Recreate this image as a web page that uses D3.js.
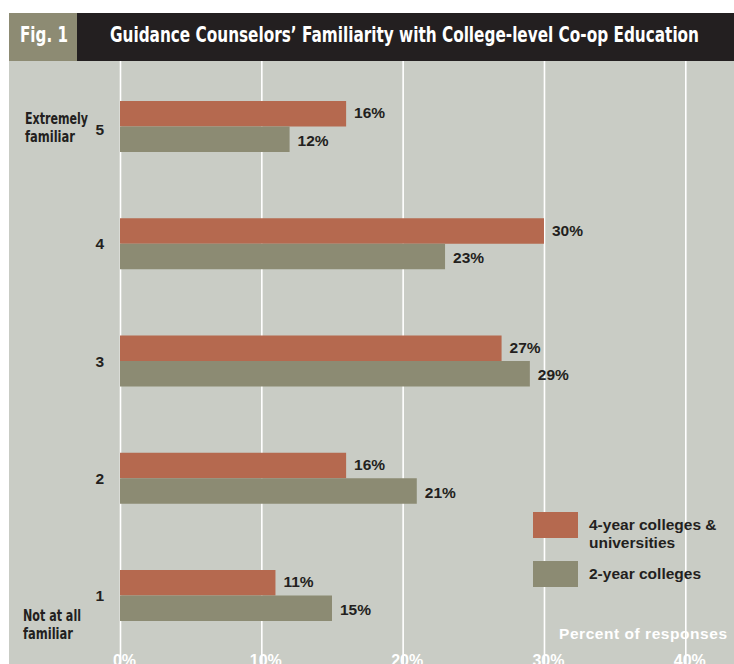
<!DOCTYPE html>
<html lang="en">
<head>
  <meta charset="utf-8">
  <title>Fig. 1 Guidance Counselors' Familiarity</title>
  <script src="https://d3js.org/d3.v7.min.js"></script>
  <style>
    body {
      margin: 0;
      background: #fff;
    }
    svg {
      display: block;
    }
    .narrow {
      font-family: "Liberation Sans Narrow", "DejaVu Sans Condensed", "Arial Narrow", sans-serif;
      font-weight: bold;
    }
    .plain {
      font-family: "Liberation Sans", Arial, Helvetica, sans-serif;
      font-weight: bold;
    }
  </style>
</head>
<body>
  <svg width="734" height="664"></svg>

  <script>
  // data
  const levels = ["5", "4", "3", "2", "1"];
  const fourYear = [16, 30, 27, 16, 11];
  const twoYear = [12, 23, 29, 21, 15];
  const seriesNames = ["4-year colleges & universities", "2-year colleges"];
  const tickValues = [0, 10, 20, 30, 40];
  const levelNotes = { "5": ["Extremely", "familiar"], "1": ["Not at all", "familiar"] };

  const colors = ["#b5694f", "#8c8b73"];
  const ink = "#231f20";

  const svg = d3.select("svg");
  const W = 734, H = 664;
  const plotTop = 61, plotLeft = 9;

  // header
  svg.append("rect").attr("x", plotLeft).attr("y", 13).attr("width", 68).attr("height", 48).attr("fill", "#8d8b73");
  svg.append("rect").attr("x", 77).attr("y", 13).attr("width", W - 77).attr("height", 48).attr("fill", ink);
  svg.append("text").attr("class", "narrow")
    .attr("x", 20).attr("y", 42)
    .attr("font-size", 22).attr("fill", "#fff")
    .attr("textLength", 48).attr("lengthAdjust", "spacingAndGlyphs")
    .text("Fig. 1");
  svg.append("text").attr("class", "narrow")
    .attr("x", 110).attr("y", 42)
    .attr("font-size", 22).attr("fill", "#fff")
    .attr("textLength", 589).attr("lengthAdjust", "spacingAndGlyphs")
    .text("Guidance Counselors’ Familiarity with College-level Co-op Education");

  // plot background
  svg.append("rect").attr("x", plotLeft).attr("y", plotTop).attr("width", W - plotLeft).attr("height", H - plotTop).attr("fill", "#c9ccc5");

  const x = d3.scaleLinear().domain([0, 40]).range([120, 685.3]);
  const y = d3.scalePoint().domain(levels).range([126.5, 595.5]);
  const barH = 25.5;

  // gridlines + tick labels (cut by the bottom edge, as in the print)
  const axis = svg.append("g")
    .attr("transform", `translate(0,${H})`)
    .call(d3.axisBottom(x).tickValues(tickValues).tickSize(-(H - plotTop)).tickPadding(-9).tickFormat(d => d + "%"));
  axis.select(".domain").remove();
  axis.selectAll(".tick line").attr("stroke", "#fff").attr("stroke-width", 1.6);
  axis.selectAll(".tick text")
    .attr("class", "plain")
    .attr("fill", "#fff")
    .attr("font-size", 16)
    .attr("dx", 4);

  svg.append("text").attr("class", "plain")
    .attr("x", 559).attr("y", 639)
    .attr("font-size", 15.5).attr("fill", "#fff")
    .attr("textLength", 168).attr("lengthAdjust", "spacing")
    .text("Percent of responses");

  // bars
  const series = [fourYear, twoYear];
  series.forEach((vals, s) => {
    const g = svg.append("g");
    g.selectAll("rect")
      .data(levels)
      .join("rect")
      .attr("x", x(0))
      .attr("y", d => y(d) - barH + s * barH)
      .attr("width", (d, i) => x(vals[i]) - x(0))
      .attr("height", barH)
      .attr("fill", colors[s]);
    g.selectAll("text")
      .data(levels)
      .join("text")
      .attr("class", "plain")
      .attr("x", (d, i) => x(vals[i]) + 8)
      .attr("y", d => y(d) - barH / 2 + s * barH + (s === 0 ? -1 : 1))
      .attr("dominant-baseline", "central")
      .attr("font-size", 15.5)
      .attr("fill", ink)
      .text((d, i) => vals[i] + "%");
  });

  // level numbers
  svg.selectAll(".lvl")
    .data(levels)
    .join("text")
    .attr("class", "plain lvl")
    .attr("x", 104)
    .attr("y", d => y(d) + (d === "5" ? 3 : 0))
    .attr("dominant-baseline", "central")
    .attr("text-anchor", "end")
    .attr("font-size", 15.5)
    .attr("fill", ink)
    .text(d => d);

  // level descriptions, squeezed to the condensed face of the print
  const noteWidths = { "Extremely": 63, "Not at all": 58, "familiar": 50 };
  Object.entries(levelNotes).forEach(([lvl, lines]) => {
    const base = lvl === "5" ? y(lvl) - 2.5 : y(lvl) + 25.5;
    const x0 = lvl === "5" ? 25 : 23;
    lines.forEach((line, i) => {
      svg.append("text").attr("class", "narrow")
        .attr("x", x0).attr("y", base + i * 18)
        .attr("font-size", 15.5).attr("fill", ink)
        .attr("textLength", noteWidths[line]).attr("lengthAdjust", "spacingAndGlyphs")
        .text(line);
    });
  });

  // legend
  const legendY = [512, 561];
  const legendLines = [["4-year colleges &", "universities"], ["2-year colleges"]];
  seriesNames.forEach((name, i) => {
    svg.append("rect")
      .attr("x", 533).attr("y", legendY[i])
      .attr("width", 45).attr("height", 26)
      .attr("fill", colors[i]);
    const t = svg.append("text").attr("class", "plain")
      .attr("x", 589).attr("y", legendY[i] + 18)
      .attr("font-size", 15.5).attr("fill", ink);
    legendLines[i].forEach((line, j) => {
      t.append("tspan").attr("x", 589).attr("dy", j === 0 ? 0 : 18).text(line);
    });
  });
  </script>
</body>
</html>
